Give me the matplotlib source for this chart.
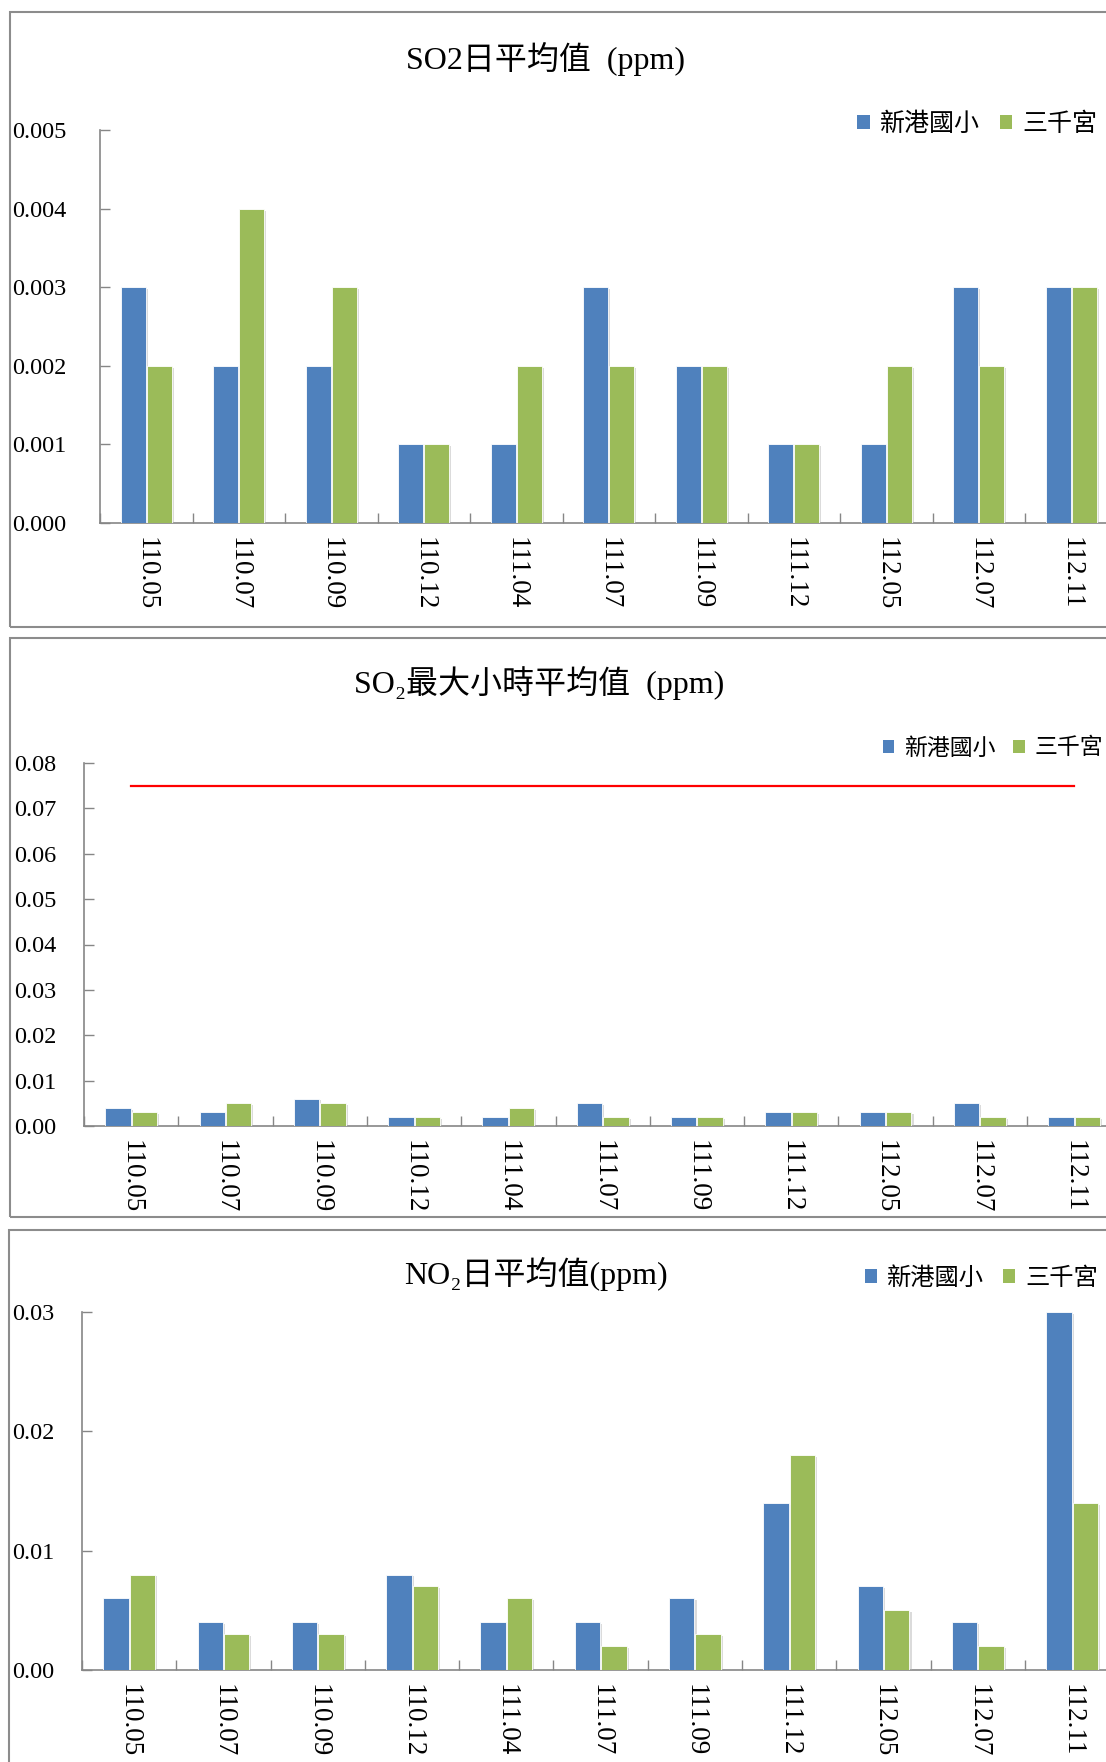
import matplotlib

matplotlib.use("Agg")
import matplotlib.pyplot as plt
import matplotlib.patheffects as pe
import numpy as np
from matplotlib.patches import Patch, Rectangle
from matplotlib.ticker import FixedLocator, FormatStrFormatter

# sampling periods (ROC year.month)
periods = ["110.05", "110.07", "110.09", "110.12", "111.04", "111.07",
           "111.09", "111.12", "112.05", "112.07", "112.11"]
stations = ["新港國小", "三千宮"]

so2_daily_xingang = [0.003, 0.002, 0.002, 0.001, 0.001, 0.003, 0.002, 0.001, 0.001, 0.003, 0.003]
so2_daily_sanqian = [0.002, 0.004, 0.003, 0.001, 0.002, 0.002, 0.002, 0.001, 0.002, 0.002, 0.003]

so2_hourly_xingang = [0.004, 0.003, 0.006, 0.002, 0.002, 0.005, 0.002, 0.003, 0.003, 0.005, 0.002]
so2_hourly_sanqian = [0.003, 0.005, 0.005, 0.002, 0.004, 0.002, 0.002, 0.003, 0.003, 0.002, 0.002]
so2_hourly_standard = 0.075

no2_daily_xingang = [0.006, 0.004, 0.004, 0.008, 0.004, 0.004, 0.006, 0.014, 0.007, 0.004, 0.030]
no2_daily_sanqian = [0.008, 0.003, 0.003, 0.007, 0.006, 0.002, 0.003, 0.018, 0.005, 0.002, 0.014]

BLUE = "#4F81BD"
GREEN = "#9BBB59"
GRAY = "#868686"
SERIF = ["Liberation Serif", "Noto Sans CJK TC", "DejaVu Serif"]
CJK = ["Noto Sans CJK TC", "Liberation Serif"]

W, H = 1106, 1762
fig = plt.figure(figsize=(W / 100, H / 100), dpi=100)


def fig_box(x0, y0, x1, y1):
    # pixel box (top-left origin) -> figure fraction [left, bottom, width, height]
    return [x0 / W, 1 - y1 / H, (x1 - x0) / W, (y1 - y0) / H]


def panel_frame(x0, y0, y1):
    left, bottom, width, height = fig_box(x0, y0, W + 20, y1)
    fig.patches.append(
        Rectangle((left, bottom), width, height, transform=fig.transFigure,
                  fill=False, edgecolor="#8c8c8c", linewidth=1.5)
    )


def bar_panel(box, blue, green, yticks, fmt, ypad):
    ax = fig.add_axes(fig_box(*box))
    x = np.arange(len(periods)) + 0.5
    shadow = [pe.SimplePatchShadow(offset=(1.5, -1.2), shadow_rgbFace="#b0b0b0", alpha=0.45),
              pe.Normal()]
    for values, color, shift in ((blue, BLUE, -0.14), (green, GREEN, 0.14)):
        bars = ax.bar(x + shift, values, width=0.27, color=color,
                      edgecolor="white", linewidth=0.6, zorder=3)
        for b in bars:
            b.set_path_effects(shadow)
    ax.set_xlim(0, len(periods))
    ax.set_ylim(yticks[0], yticks[-1])
    for side in ("top", "right"):
        ax.spines[side].set_visible(False)
    for side in ("left", "bottom"):
        ax.spines[side].set_color(GRAY)
        ax.spines[side].set_linewidth(1.2)

    ax.set_yticks(yticks)
    ax.yaxis.set_major_formatter(FormatStrFormatter(fmt))
    ax.tick_params(axis="y", direction="in", length=7, width=1.0, color=GRAY, pad=ypad,
                   labelsize=17.5, labelfontfamily=SERIF)
    for lab in ax.get_yticklabels():
        lab.set_horizontalalignment("left")

    ax.set_xticks(x)
    ax.set_xticklabels(periods, rotation=-90, va="top")
    ax.xaxis.set_minor_locator(FixedLocator(np.arange(len(periods) + 1)))
    ax.tick_params(axis="x", which="major", length=0, pad=10,
                   labelsize=19.5, labelfontfamily=SERIF)
    ax.tick_params(axis="x", which="minor", direction="in", length=7, width=1.0, color=GRAY)
    return ax, x


def legend_at(xpx, ypx, size):
    handles = [Patch(facecolor=BLUE, edgecolor="none"), Patch(facecolor=GREEN, edgecolor="none")]
    fig.legend(handles, stations, loc="center left", bbox_to_anchor=(xpx / W, 1 - ypx / H),
               ncol=2, frameon=False, handlelength=0.5, handleheight=0.5, handletextpad=0.4,
               columnspacing=0.8, borderpad=0, borderaxespad=0,
               prop={"family": CJK, "size": size})


# SO2 daily mean
panel_frame(10, 12, 627)
fig.text(546 / W, 1 - 59 / H, "SO2日平均值  (ppm)", ha="center", va="center",
         fontsize=23, family=SERIF)
bar_panel((100, 130.5, 100 + 11 * 92.5, 523), so2_daily_xingang, so2_daily_sanqian,
          np.linspace(0, 0.005, 6), "%.3f", 63)
legend_at(857, 124, 18)

# SO2 max hourly mean
panel_frame(10, 638, 1217)
fig.text(539 / W, 1 - 683 / H, "SO₂最大小時平均值  (ppm)", ha="center", va="center",
         fontsize=23, family=SERIF)
ax2, x2 = bar_panel((84, 763, 84 + 11 * 94.3, 1126), so2_hourly_xingang, so2_hourly_sanqian,
                    np.linspace(0, 0.08, 9), "%.2f", 50)
ax2.plot(x2, [so2_hourly_standard] * len(periods), color="#FF0000", linewidth=1.6, zorder=4)
legend_at(883, 748, 16.5)

# NO2 daily mean
panel_frame(9, 1230, H + 20)
fig.text(536 / W, 1 - 1274 / H, "NO₂日平均值(ppm)", ha="center", va="center",
         fontsize=23, family=SERIF)
bar_panel((82, 1312, 82 + 11 * 94.3, 1670), no2_daily_xingang, no2_daily_sanqian,
          np.linspace(0, 0.03, 4), "%.2f", 50)
legend_at(865, 1278, 17.5)

fig.savefig("out.png", dpi=100)
